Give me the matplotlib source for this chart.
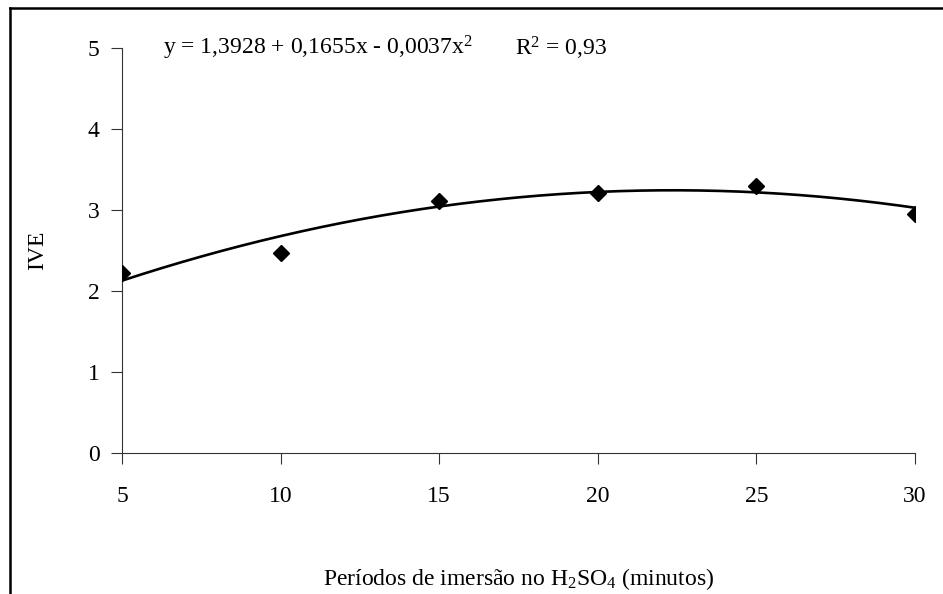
import numpy as np
import matplotlib
matplotlib.use("Agg")
import matplotlib.pyplot as plt
from matplotlib.lines import Line2D

plt.rcParams['font.family'] = ['Liberation Serif', 'DejaVu Serif']
plt.rcParams['mathtext.fontset'] = 'custom'
plt.rcParams['mathtext.rm'] = 'Liberation Serif'
plt.rcParams['mathtext.it'] = 'Liberation Serif'

# immersion periods (min) and IVE observed
periodos = [5, 10, 15, 20, 25, 30]
ive = [2.22, 2.47, 3.11, 3.21, 3.30, 2.95]
# quadratic trendline: b0, b1, b2
coef = [1.3928, 0.1655, -0.0037]
r2 = 0.93

W, H = 943, 594
fig = plt.figure(figsize=(W / 100, H / 100), dpi=100)
ax = fig.add_axes([122 / W, 1 - 453 / H, (915 - 122) / W, (453 - 48) / H])

xs = np.linspace(5, 30, 200)
ys = coef[0] + coef[1] * xs + coef[2] * xs ** 2
ax.plot(xs, ys, color='black', lw=1.9, zorder=2)
ax.plot(periodos, ive, 'D', color='black', markersize=8, zorder=3)

ax.set_xlim(5, 30)
ax.set_ylim(0, 5)
ax.set_xticks([5, 10, 15, 20, 25, 30])
ax.set_yticks([0, 1, 2, 3, 4, 5])
for s in ['top', 'right']:
    ax.spines[s].set_visible(False)
for s in ['left', 'bottom']:
    ax.spines[s].set_linewidth(0.8)
    ax.spines[s].set_color('#333333')
ax.tick_params(direction='out', length=8, width=0.8, colors='#333333',
               labelcolor='black', labelsize=17, pad=8)
ax.tick_params(axis='x', pad=16)

ax.set_ylabel('IVE', fontsize=17, labelpad=29)
ax.set_xlabel(r'Períodos de imersão no H$_2$SO$_4$ (minutos)', fontsize=17, labelpad=42)

fig.text(163 / W, 1 - 48 / H, r'y = 1,3928 + 0,1655x - 0,0037x$^2$',
         fontsize=17, va='center', ha='left')
fig.text(515 / W, 1 - 48 / H, r'R$^2$ = ' + f'{r2:.2f}'.replace('.', ','),
         fontsize=17, va='center', ha='left')

# outer frame (left and top edges visible)
fig.add_artist(Line2D([10 / W, 10 / W], [0, 1 - 8 / H], transform=fig.transFigure,
                      color='black', lw=1.8))
fig.add_artist(Line2D([10 / W, 1], [1 - 8 / H, 1 - 8 / H], transform=fig.transFigure,
                      color='black', lw=1.8))

fig.savefig('out.png', dpi=100)
